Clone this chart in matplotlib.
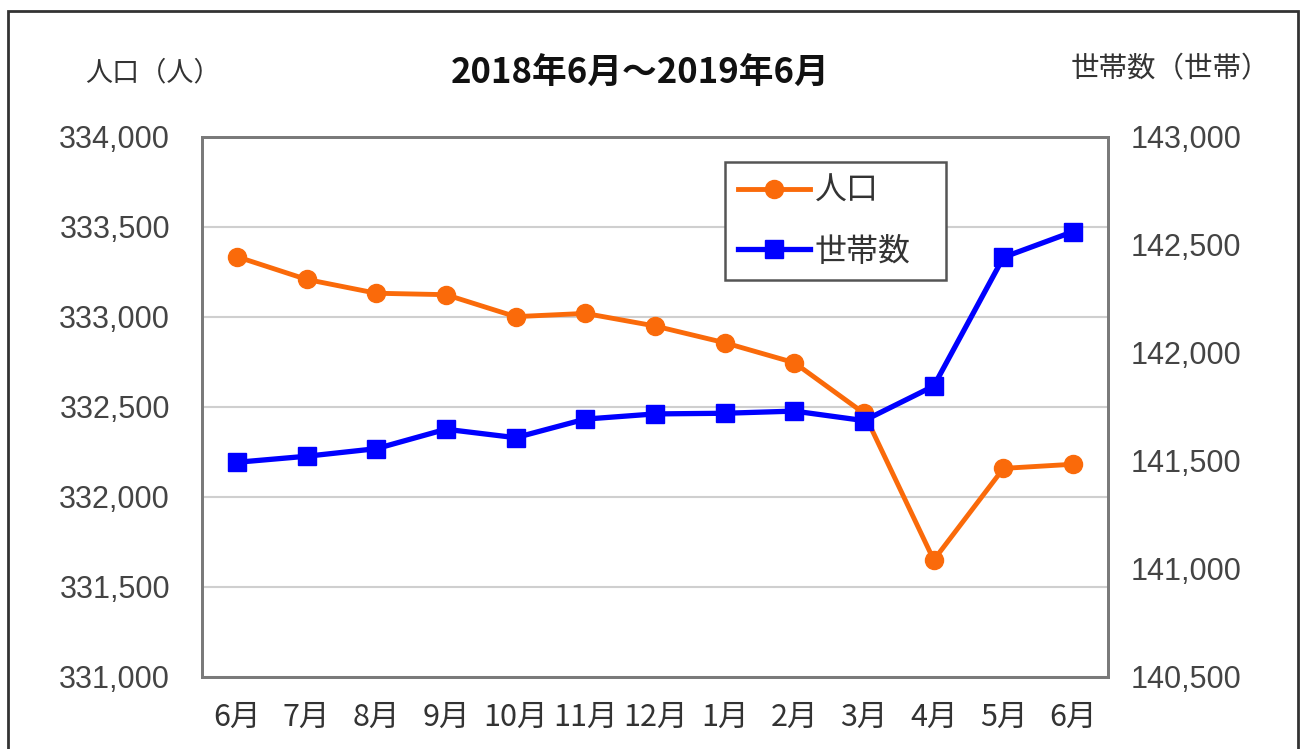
import matplotlib
matplotlib.use("Agg")
import matplotlib.pyplot as plt
from matplotlib.patches import Rectangle
from matplotlib.ticker import FuncFormatter

plt.rcParams['font.family'] = ['Noto Sans CJK JP', 'DejaVu Sans']

months = ["6月", "7月", "8月", "9月", "10月", "11月", "12月", "1月", "2月", "3月", "4月", "5月", "6月"]
population = [333335, 333209, 333132, 333124, 333002, 333020, 332950, 332857, 332746, 332465, 331650, 332159, 332182]
households = [141494, 141522, 141557, 141647, 141608, 141694, 141718, 141721, 141731, 141687, 141847, 142443, 142562]
pop_ticks = [331000, 331500, 332000, 332500, 333000, 333500, 334000]
hh_ticks = [140500, 141000, 141500, 142000, 142500, 143000]

orange = "#FA6A0A"
blue = "#0000FF"
text_col = "#333333"

fig = plt.figure(figsize=(13, 7.49), dpi=100)
fig.patch.set_facecolor("white")
# outer frame
fig.add_artist(Rectangle((8/1300, -0.05), (1298-8)/1300, 1 - 11/749 + 0.05,
                         transform=fig.transFigure, fill=False, edgecolor="#333333", lw=2))

ax = fig.add_axes([202/1300, 1-677/749, (1108-202)/1300, (677-137)/749])
ax2 = ax.twinx()

x = list(range(len(months)))
l1, = ax.plot(x, population, color=orange, lw=3.5, marker="o", markersize=13, label="人口", zorder=3)
l2, = ax2.plot(x, households, color=blue, lw=3.8, marker="s", markersize=12.5, label="世帯数", zorder=4)

ax.set_xlim(-0.5, len(months) - 0.5)
ax.set_ylim(331000, 334000)
ax2.set_ylim(140500, 143000)
ax.set_yticks(pop_ticks)
ax2.set_yticks(hh_ticks)
fmt = FuncFormatter(lambda v, p: f"{int(v):,}")
ax.yaxis.set_major_formatter(fmt)
ax2.yaxis.set_major_formatter(fmt)
ax.set_xticks(x)
ax.set_xticklabels(months)

ax.grid(axis="y", color="#CFCFCF", lw=1.5)
ax.set_axisbelow(True)
for a in (ax, ax2):
    for s in a.spines.values():
        s.set_color("#7A7A7A")
        s.set_linewidth(2)
    a.tick_params(length=0, labelsize=22, colors=text_col)
ax.tick_params(axis="y", pad=23)
ax2.tick_params(axis="y", pad=16)
ax.tick_params(axis="x", pad=18)
for lab in ax.get_yticklabels() + ax2.get_yticklabels():
    lab.set_family(['Liberation Sans', 'DejaVu Sans'])
    lab.set_fontsize(22)
    lab.set_color("#444444")

fig.text(640/1300, 1-73/749, "2018年6月～2019年6月", ha="center", va="center",
         fontsize=25, fontweight="bold", color="#111111")
fig.text(153/1300, 1-73/749, "人口（人）", ha="center", va="center", fontsize=19.5, color=text_col)
fig.text(1170/1300, 1-69/749, "世帯数（世帯）", ha="center", va="center", fontsize=20.5, color=text_col)

leg = ax2.legend(handles=[l1, l2], loc="upper left",
                 bbox_to_anchor=(725/1300, 1-278/749, (946-725)/1300, (278-162)/749),
                 bbox_transform=fig.transFigure, mode="expand", borderaxespad=0,
                 fancybox=False, framealpha=1, edgecolor="#555555",
                 fontsize=23, handlelength=2.25, borderpad=0.4, labelspacing=0.9,
                 handletextpad=0.16)
leg.get_frame().set_linewidth(1.8)
for t in leg.get_texts():
    t.set_color(text_col)

fig.savefig("out.png", dpi=100, facecolor="white")
